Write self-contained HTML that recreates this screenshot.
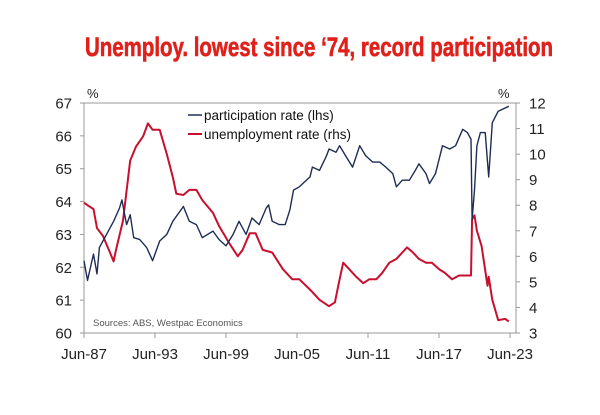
<!DOCTYPE html>
<html><head><meta charset="utf-8"><style>
body{margin:0;background:#fff}
svg{display:block;font-family:"Liberation Sans",Arial,sans-serif}
</style></head><body>
<svg id="chart" width="600" height="415" viewBox="0 0 600 415">
<text x="85" y="56" font-family="'Liberation Sans Narrow','Liberation Sans',sans-serif" font-weight="bold" font-size="27" fill="#e0201b" stroke="#e0201b" stroke-width="0.6" textLength="468" lengthAdjust="spacingAndGlyphs">Unemploy. lowest since ‘74, record participation</text>
<g id="axes"></g>
<g id="series"></g>
<line x1="188" y1="115" x2="202" y2="115" stroke="#1f2d55" stroke-width="1.5"/>
<text x="204" y="120" font-size="13.5" fill="#111">participation rate (lhs)</text>
<line x1="188" y1="134" x2="202" y2="134" stroke="#c8102e" stroke-width="2"/>
<text x="204" y="139" font-size="13.5" fill="#111">unemployment rate (rhs)</text>
<text x="93" y="326" font-size="9.5" fill="#555">Sources: ABS, Westpac Economics</text>
<text x="87" y="98" font-size="13" fill="#222">%</text>
<text x="498" y="98" font-size="13" fill="#222">%</text>
</svg>
<script>
const partYears=[1987.5,1987.8,1988.3,1988.6,1988.8,1989.4,1990.0,1990.5,1990.7,1991.1,1991.4,1991.7,1992.2,1992.8,1993.3,1993.9,1994.5,1995.0,1995.9,1996.4,1997.0,1997.5,1998.4,1998.9,1999.5,2000.1,2000.6,2001.2,2001.7,2002.3,2002.9,2003.1,2003.4,2004.0,2004.5,2004.9,2005.2,2005.7,2006.6,2006.8,2007.4,2008.0,2008.2,2008.8,2009.1,2009.6,2010.2,2010.8,2011.3,2011.9,2012.5,2013.0,2013.6,2013.9,2014.4,2015.0,2015.5,2015.8,2016.4,2016.7,2017.2,2017.8,2018.4,2018.9,2019.5,2019.9,2020.2,2020.3,2020.5,2020.7,2021.0,2021.4,2021.7,2022.0,2022.5,2023.4];
const partValues=[62.2,61.6,62.4,61.8,62.6,63.0,63.4,63.8,64.05,63.3,63.6,62.9,62.85,62.6,62.2,62.8,63.0,63.4,63.85,63.4,63.3,62.9,63.1,62.85,62.65,63.0,63.4,63.0,63.5,63.3,63.8,63.9,63.4,63.3,63.3,63.75,64.35,64.45,64.75,65.05,64.95,65.4,65.6,65.5,65.7,65.4,65.05,65.7,65.4,65.2,65.2,65.05,64.85,64.45,64.65,64.65,64.95,65.15,64.85,64.55,64.85,65.7,65.6,65.7,66.2,66.1,65.9,63.45,64.35,65.7,66.1,66.1,64.75,66.4,66.75,66.9];
const unempYears=[1987.5,1987.8,1988.3,1988.6,1989.1,1989.7,1990.0,1990.2,1990.8,1991.4,1991.9,1992.5,1992.9,1993.3,1993.9,1994.5,1995.0,1995.3,1995.9,1996.4,1997.0,1997.5,1998.4,1998.9,1999.8,2000.5,2000.9,2001.5,2002.0,2002.6,2003.4,2004.3,2005.1,2005.7,2006.6,2007.4,2008.2,2008.7,2009.1,2009.4,2009.9,2010.5,2011.1,2011.6,2012.2,2012.7,2013.3,2013.9,2014.4,2014.8,2015.3,2015.8,2016.4,2016.9,2017.5,2018.0,2018.6,2019.2,2019.7,2020.2,2020.3,2020.5,2020.7,2021.1,2021.6,2021.7,2022.0,2022.5,2023.1,2023.4];
const unempValues=[8.1,8.0,7.85,7.1,6.8,6.15,5.8,6.25,7.4,9.75,10.3,10.7,11.2,10.95,10.95,10.0,9.1,8.45,8.4,8.6,8.6,8.2,7.7,7.2,6.5,6.0,6.25,6.9,6.9,6.25,6.15,5.5,5.1,5.1,4.7,4.3,4.05,4.2,5.1,5.75,5.5,5.2,4.95,5.1,5.1,5.35,5.75,5.9,6.15,6.35,6.15,5.9,5.75,5.75,5.5,5.35,5.1,5.25,5.25,5.25,7.45,7.6,7.0,6.4,4.85,5.2,4.3,3.5,3.55,3.45];
const leftTicks=[60,61,62,63,64,65,66,67];
const rightTicks=[3,4,5,6,7,8,9,10,11,12];
const xTickYears=[1987.5,1993.5,1999.5,2005.5,2011.5,2017.5,2023.5];
const xTickLabels=["Jun-87","Jun-93","Jun-99","Jun-05","Jun-11","Jun-17","Jun-23"];

const X0=84,X1=516,TOP=103,BOT=333;
const xs=y=>84+(y-1987.5)*(510-84)/36;
const yl=v=>BOT-(v-60)*(BOT-TOP)/7;
const yr=v=>BOT-(v-3)*(BOT-TOP)/9;
const NS="http://www.w3.org/2000/svg";
const axes=document.getElementById('axes'),ser=document.getElementById('series');
function mk(tag,attrs,parent,txt){const e=document.createElementNS(NS,tag);for(const k in attrs)e.setAttribute(k,attrs[k]);if(txt!==undefined)e.textContent=txt;parent.appendChild(e);return e;}
let e;
e=mk('rect',{x:X0,y:TOP,width:X1-X0,height:BOT-TOP,fill:'none',stroke:'#999','stroke-width':1},axes);


leftTicks.forEach(v=>{
 e=mk('line',{x1:X0-4,x2:X0,y1:yl(v),y2:yl(v),stroke:'#999'},axes);
 
 
 e=mk('text',{x:X0-12,y:yl(v)+5.5,'text-anchor':'end','font-size':15,fill:'#222'},axes,v);
 
 
});
rightTicks.forEach(v=>{
 e=mk('line',{x1:X1,x2:X1+4,y1:yr(v),y2:yr(v),stroke:'#999'},axes);
 
 
 e=mk('text',{x:X1+13,y:yr(v)+5.5,'font-size':15,fill:'#222'},axes,v);
 
 
});
xTickYears.forEach((y,i)=>{
 e=mk('line',{x1:xs(y),x2:xs(y),y1:BOT,y2:BOT+5,stroke:'#999'},axes);
 
 
 e=mk('text',{x:xs(y),y:BOT+26,'text-anchor':'middle','font-size':15,fill:'#222'},axes,xTickLabels[i]);
 
 
});
e=mk('polyline',{points:unempYears.map((y,i)=>xs(y).toFixed(1)+','+yr(unempValues[i]).toFixed(1)).join(' '),fill:'none',stroke:'#c8102e','stroke-width':2,'stroke-linejoin':'round'},ser);


e=mk('polyline',{points:partYears.map((y,i)=>xs(y).toFixed(1)+','+yl(partValues[i]).toFixed(1)).join(' '),fill:'none',stroke:'#1f2d55','stroke-width':1.4,'stroke-linejoin':'round'},ser);


</script>
</body></html>
